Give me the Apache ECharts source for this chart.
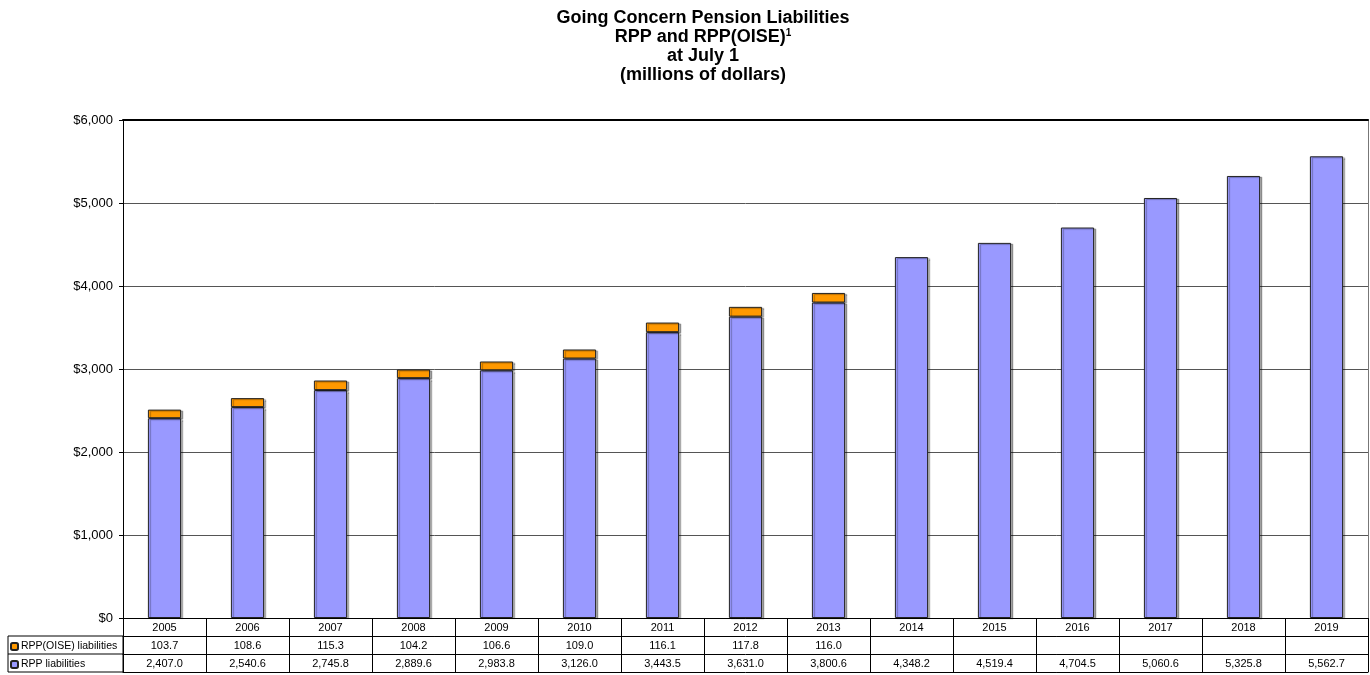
<!DOCTYPE html>
<html>
<head>
<meta charset="utf-8">
<script src="https://cdn.jsdelivr.net/npm/echarts@6/dist/echarts.min.js"></script>
<style>html,body{margin:0;padding:0;background:#fff}#c{width:1370px;height:675px}</style>
</head>
<body>
<div id="c"></div>
<script>
var years = ['2005','2006','2007','2008','2009','2010','2011','2012','2013','2014','2015','2016','2017','2018','2019'];
var oiseValues = [103.7,108.6,115.3,104.2,106.6,109.0,116.1,117.8,116.0,null,null,null,null,null,null];
var rppValues = [2407.0,2540.6,2745.8,2889.6,2983.8,3126.0,3443.5,3631.0,3800.6,4348.2,4519.4,4704.5,5060.6,5325.8,5562.7];
var yTicks = [0,1000,2000,3000,4000,5000,6000];
var seriesNames = ['RPP(OISE) liabilities','RPP liabilities'];

var FONT = 'Liberation Sans';
function fmt1(v){ return v==null ? '' : v.toLocaleString('en-US',{minimumFractionDigits:1,maximumFractionDigits:1}); }

var chart = echarts.init(document.getElementById('c'));
function tableAxis(data, offset, showLabels, showTicks){
  return {
    type:'category', position:'bottom', gridIndex:0, data:data, offset:offset,
    axisLine:{show:true,onZero:false,lineStyle:{color:'#000',width:1}},
    axisTick:{show:showTicks,interval:0,length:18,lineStyle:{color:'#000',width:1}},
    axisLabel:{show:showLabels,interval:0,margin:4,fontSize:11,color:'#000',fontFamily:FONT},
    splitLine:{show:false}
  };
}
function legendFor(name, top){
  return {
    orient:'horizontal', left:10, top:top, padding:0, itemWidth:7, itemHeight:7, itemGap:5,
    data:[name], selectedMode:false,
    textStyle:{fontFamily:FONT,fontSize:10.5,color:'#000',padding:[0,0,0,-2]}
  };
}
chart.setOption({
  animation:false,
  title:{
    text:'Going Concern Pension Liabilities\nRPP and RPP(OISE){sup|1}\nat July 1\n(millions of dollars)',
    left:703, top:9, textAlign:'center', padding:0,
    textStyle:{fontFamily:FONT,fontSize:18,fontWeight:'bold',color:'#000',lineHeight:19,
      rich:{sup:{fontSize:10,fontWeight:'bold',fontFamily:FONT,verticalAlign:'top',lineHeight:19,padding:[0,0,7,0]}}}
  },
  legend:[ legendFor(seriesNames[0], 641), legendFor(seriesNames[1], 659) ],
  grid:{left:123,right:2,top:120,bottom:57,containLabel:false},
  xAxis:[
    tableAxis(years, 0, true, true),
    tableAxis(oiseValues.map(fmt1), 18, true, true),
    tableAxis(rppValues.map(fmt1), 36, true, true),
    tableAxis(years, 54, false, false),
    {type:'category', position:'top', data:years, axisLine:{show:true,onZero:false,lineStyle:{color:'#000',width:2}}, axisTick:{show:false}, axisLabel:{show:false}}
  ],
  yAxis:[
    {type:'value', min:yTicks[0], max:yTicks[yTicks.length-1], interval:1000,
     axisLine:{show:true,lineStyle:{color:'#000',width:1}},
     axisTick:{show:true,length:4,lineStyle:{color:'#000'}},
     axisLabel:{fontFamily:FONT,fontSize:13,color:'#000',margin:10,formatter:function(v){return '$'+v.toLocaleString('en-US');}},
     splitLine:{show:true,lineStyle:{color:'#555',width:1}}},
    {type:'value', position:'right', min:yTicks[0], max:yTicks[yTicks.length-1], interval:1000,
     axisLine:{show:true,lineStyle:{color:'#777',width:1}}, axisTick:{show:false}, axisLabel:{show:false}, splitLine:{show:false}}
  ],
  graphic:[
    {type:'rect', shape:{x:8,y:636,width:115,height:36}, style:{fill:'none',stroke:'#000',lineWidth:1}, z:100},
    {type:'line', shape:{x1:8,y1:654,x2:123,y2:654}, style:{stroke:'#000',lineWidth:1}, z:100}
  ],
  series:[
    {name:seriesNames[1], type:'bar', stack:'t', xAxisIndex:0, yAxisIndex:0, barWidth:'40%', data:rppValues,
     itemStyle:{color:'#9999FF',borderColor:'#222',borderWidth:1,shadowColor:'rgba(0,0,0,0.3)',shadowOffsetX:2,shadowOffsetY:1,shadowBlur:1}},
    {name:seriesNames[0], type:'bar', stack:'t', xAxisIndex:0, yAxisIndex:0, barWidth:'40%', data:oiseValues,
     itemStyle:{color:'#FF9900',borderColor:'#222',borderWidth:1,shadowColor:'rgba(0,0,0,0.3)',shadowOffsetX:2,shadowOffsetY:1,shadowBlur:1}}
  ]
});
</script>
</body>
</html>
